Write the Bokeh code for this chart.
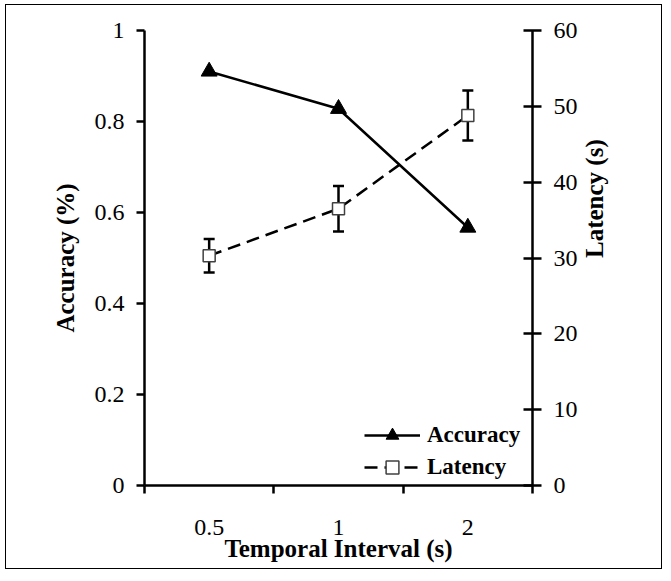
import math
from bokeh.plotting import figure
from bokeh.models import (Range1d, LinearAxis, FixedTicker, CustomJSTickFormatter,
                          Legend, LegendItem)
from bokeh.embed import file_html
from bokeh.resources import INLINE

# ---- data ----
intervals = ["0.5", "1", "2"]          # Temporal interval (s)
accuracy = [0.91, 0.828, 0.567]         # Accuracy (%)
latency = [30.3, 36.5, 48.8]            # Latency (s)
latency_err = [2.2, 3.0, 3.3]           # error bar half-length (s)
acc_ticks = [0, 0.2, 0.4, 0.6, 0.8, 1]
lat_ticks = [0, 10, 20, 30, 40, 50, 60]

FONT = "Liberation Serif"

xs = [i + 0.5 for i in range(len(intervals))]
bounds = list(range(len(intervals) + 1))
lat_lo = [v - e for v, e in zip(latency, latency_err)]
lat_hi = [v + e for v, e in zip(latency, latency_err)]

p = figure(frame_width=388, frame_height=455,
           x_range=Range1d(0, len(intervals)), y_range=Range1d(0, 1),
           output_backend="svg", toolbar_location=None,
           min_border_left=138, min_border_right=129,
           min_border_top=25, min_border_bottom=83)
p.styles = {"border": "1px solid black", "transform": "translate(5px, 4px)"}
p.extra_y_ranges = {"lat": Range1d(0, 60)}
p.xgrid.visible = False
p.ygrid.visible = False
p.outline_line_color = None
p.background_fill_color = "white"
p.border_fill_color = "white"

# x axis
xa = p.xaxis[0]
xa.ticker = FixedTicker(ticks=xs, minor_ticks=bounds)
xa.formatter = CustomJSTickFormatter(args={"labels": intervals},
                                     code="return labels[Math.floor(tick)];")
xa.major_tick_in = 0
xa.major_tick_out = 0
xa.minor_tick_in = 0
xa.minor_tick_out = 8
xa.minor_tick_line_width = 2.5
xa.minor_tick_line_color = "black"
xa.major_label_standoff = 26
xa.axis_label = "Temporal Interval (s)"
xa.axis_label_standoff = -3

# left y axis
ya = p.yaxis[0]
ya.ticker = FixedTicker(ticks=acc_ticks, minor_ticks=[])
ya.formatter = CustomJSTickFormatter(code="return String(Number(tick.toFixed(2)));")
ya.major_tick_in = 0
ya.major_tick_out = 8
ya.major_label_standoff = 12
ya.axis_label = "Accuracy (%)"
ya.axis_label_standoff = 13

# right y axis
ra = LinearAxis(y_range_name="lat", ticker=FixedTicker(ticks=lat_ticks, minor_ticks=[]))
ra.major_tick_in = 9
ra.major_tick_out = 9
ra.major_label_standoff = 12
ra.axis_label = "Latency (s)"
ra.axis_label_standoff = 14
ra.axis_label_orientation = math.pi / 2
p.add_layout(ra, "right")

for ax in (xa, ya, ra):
    ax.major_label_text_font = FONT
    ax.major_label_text_font_size = "24px"
    ax.major_label_text_color = "black"
    ax.axis_label_text_font = FONT
    ax.axis_label_text_font_size = "25px"
    ax.axis_label_text_font_style = "bold"
    ax.axis_label_text_color = "black"
    ax.axis_line_color = "black"
    ax.axis_line_width = 2.5
    ax.major_tick_line_width = 2.5
    ax.major_tick_line_color = "black"
xa.major_tick_line_color = None

# accuracy
acc_line = p.line(xs, accuracy, line_color="black", line_width=2.5)
# latency
lat_line = p.line(xs, latency, y_range_name="lat", line_color="black",
                  line_width=2.5, line_dash="13 7")
p.segment(xs, lat_lo, xs, lat_hi, y_range_name="lat", line_color="black", line_width=2.5)
p.scatter(xs, lat_lo, y_range_name="lat", marker="dash", size=11,
          line_color="black", line_width=2.5)
p.scatter(xs, lat_hi, y_range_name="lat", marker="dash", size=11,
          line_color="black", line_width=2.5)
acc_pts = p.scatter(xs, accuracy, marker="triangle", size=16,
                    fill_color="black", line_color="black")
lat_pts = p.scatter(xs, latency, y_range_name="lat", marker="square", size=12,
                    fill_color="white", line_color="#404040", line_width=1.5)

legend = Legend(items=[LegendItem(label="Accuracy", renderers=[acc_line, acc_pts]),
                       LegendItem(label="Latency", renderers=[lat_line, lat_pts])],
                location=(220, 2))
legend.label_text_font = FONT
legend.label_text_font_size = "23px"
legend.label_text_font_style = "bold"
legend.label_text_color = "black"
legend.background_fill_alpha = 0
legend.border_line_color = None
legend.padding = 0
legend.margin = 0
legend.glyph_width = 56
legend.glyph_height = 32
legend.label_height = 32
legend.label_standoff = 7
legend.spacing = -1
p.add_layout(legend)

open("out.html", "w").write(file_html(p, INLINE))
